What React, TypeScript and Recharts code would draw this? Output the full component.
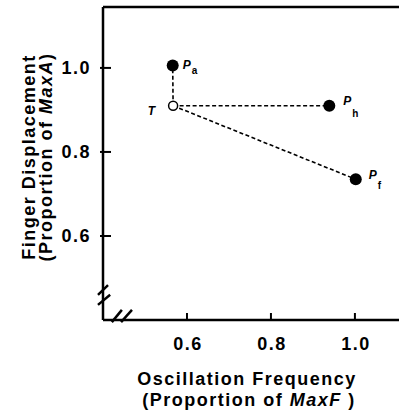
import { ScatterChart, Scatter, XAxis, YAxis, ReferenceLine } from 'recharts'

// points: T = target, Pa / Ph / Pf = preferred points
const pointNames = ['T', 'Pa', 'Ph', 'Pf']
const frequency = [0.567, 0.566, 0.939, 1.002]
const displacement = [0.91, 1.006, 0.91, 0.735]

const xTicks = [0.6, 0.8, 1.0]
const yTicks = [0.6, 0.8, 1.0]
const tickLabels = ['0.6', '0.8', '1.0']

const xDomain = [0.4, 1.105]
const yDomain = [0.4, 1.145]

// axis break slashes, in data units
const yBreaks = [
  [{ x: 0.388, y: 0.46 }, { x: 0.412, y: 0.483 }],
  [{ x: 0.388, y: 0.436 }, { x: 0.417, y: 0.46 }],
]
const xBreaks = [
  [{ x: 0.421, y: 0.395 }, { x: 0.445, y: 0.424 }],
  [{ x: 0.443, y: 0.395 }, { x: 0.469, y: 0.424 }],
]

const data = pointNames.map((name, i) => ({ name, x: frequency[i], y: displacement[i] }))
const target = data[0]
const responses = data.slice(1)

const FONT = '"Liberation Sans", Arial, sans-serif'

const labelPos: Record<string, { dx: number; dy: number; subDy: number }> = {
  Pa: { dx: 10, dy: 4, subDy: 5 },
  Ph: { dx: 14, dy: -1, subDy: 12 },
  Pf: { dx: 13, dy: 0, subDy: 10 },
}

function PointShape(props: any) {
  const { cx, cy, payload } = props
  if (payload.name === 'T') {
    return (
      <g>
        <circle cx={cx} cy={cy} r={4.5} fill="#fff" stroke="#000" strokeWidth={1.5} />
        <text
          x={cx - 18}
          y={cy + 9}
          textAnchor="end"
          fontFamily={FONT}
          fontStyle="italic"
          fontWeight="bold"
          fontSize={12}
        >
          T
        </text>
      </g>
    )
  }
  const p = labelPos[payload.name]
  return (
    <g>
      <circle cx={cx} cy={cy} r={6} fill="#000" />
      <text x={cx + p.dx} y={cy + p.dy} fontFamily={FONT} fontWeight="bold" fill="#000">
        <tspan fontStyle="italic" fontSize={12}>P</tspan>
        <tspan fontSize={10} dx={1} dy={p.subDy}>
          {payload.name.slice(1)}
        </tspan>
      </text>
    </g>
  )
}

function XTick({ x, y, index }: any) {
  return (
    <g>
      <line x1={x} x2={x} y1={y} y2={y - 7} stroke="#000" strokeWidth={2} />
      <text
        x={x + 1}
        y={y + 30}
        textAnchor="middle"
        fontFamily={FONT}
        fontWeight="bold"
        fontSize={18}
        letterSpacing={1.5}
      >
        {tickLabels[index]}
      </text>
    </g>
  )
}

function YTick({ x, y, index }: any) {
  return (
    <g>
      <line x1={x - 3} x2={x + 8} y1={y} y2={y} stroke="#000" strokeWidth={2} />
      <text
        x={x - 12}
        y={y + 6.5}
        textAnchor="end"
        fontFamily={FONT}
        fontWeight="bold"
        fontSize={18}
        letterSpacing={1.5}
      >
        {tickLabels[index]}
      </text>
    </g>
  )
}

const titleStyle = {
  fontFamily: FONT,
  fontWeight: 'bold' as const,
  fontSize: 18,
  letterSpacing: 1.5,
}

function XTitle() {
  return (
    <g>
      <text x={247} y={385} textAnchor="middle" style={titleStyle}>
        Oscillation Frequency
      </text>
      <text x={249} y={406} textAnchor="middle" style={titleStyle}>
        (Proportion of <tspan fontStyle="italic">MaxF</tspan> )
      </text>
    </g>
  )
}

function YTitle() {
  return (
    <g>
      <text x={35} y={157} textAnchor="middle" transform="rotate(-90 35 157)" style={titleStyle}>
        Finger Displacement
      </text>
      <text x={52} y={157} textAnchor="middle" transform="rotate(-90 52 157)" style={titleStyle}>
        (Proportion of <tspan fontStyle="italic">MaxA</tspan>)
      </text>
    </g>
  )
}

export default function App() {
  return (
    <div style={{ position: 'absolute', left: 0, top: 0, background: '#fff' }}>
      <ScatterChart width={399} height={415} margin={{ top: 7, right: 0, bottom: 0, left: 0 }}>
        <XAxis
          type="number"
          dataKey="x"
          domain={xDomain}
          ticks={xTicks}
          height={95}
          tickSize={0}
          tickMargin={0}
          tickLine={false}
          tick={<XTick />}
          axisLine={{ stroke: '#000', strokeWidth: 2.5 }}
          label={<XTitle />}
          allowDataOverflow
        />
        <YAxis
          type="number"
          dataKey="y"
          domain={yDomain}
          ticks={yTicks}
          width={103}
          tickSize={0}
          tickMargin={0}
          tickLine={false}
          tick={<YTick />}
          axisLine={{ stroke: '#000', strokeWidth: 2.5 }}
          label={<YTitle />}
          allowDataOverflow
        />
        <ReferenceLine y={yDomain[1]} stroke="#000" strokeWidth={2.5} ifOverflow="visible" />
        {[...yBreaks, ...xBreaks].map((seg, i) => (
          <ReferenceLine
            key={i}
            segment={seg}
            stroke="#000"
            strokeWidth={2.5}
            ifOverflow="visible"
          />
        ))}
        {responses.map(r => (
          <Scatter
            key={r.name}
            data={[target, r]}
            line={{ stroke: '#000', strokeWidth: 1.6, strokeDasharray: '4 2.5' }}
            shape={() => <g />}
            isAnimationActive={false}
          />
        ))}
        <Scatter data={data} shape={<PointShape />} isAnimationActive={false} />
      </ScatterChart>
    </div>
  )
}
